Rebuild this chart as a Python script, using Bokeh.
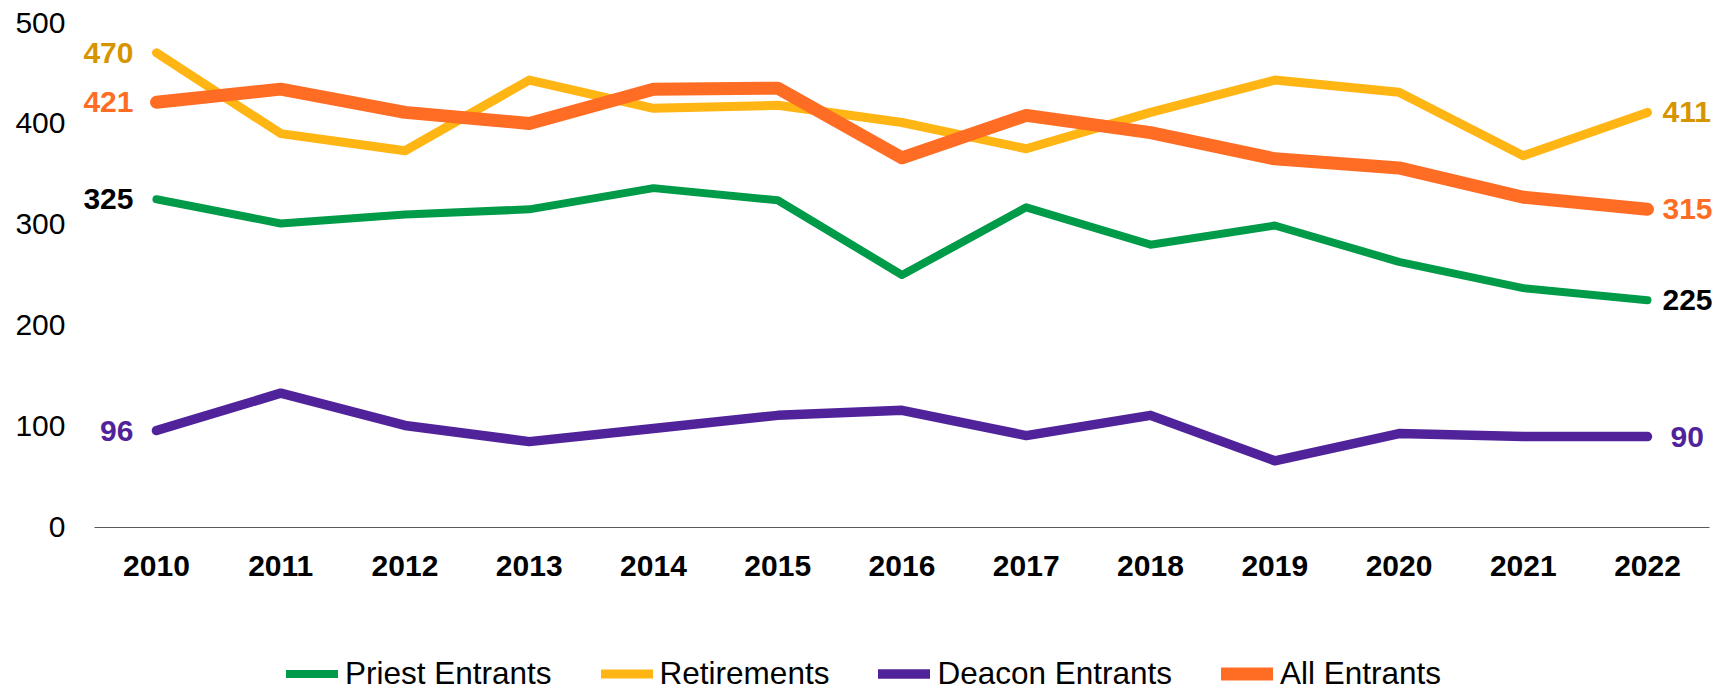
from bokeh.plotting import figure
from bokeh.models import ColumnDataSource, LabelSet, Legend, LegendItem, FixedTicker, Range1d
from bokeh.core.properties import value
from bokeh.embed import file_html
from bokeh.resources import INLINE

# ---- data ----
years = [2010, 2011, 2012, 2013, 2014, 2015, 2016, 2017, 2018, 2019, 2020, 2021, 2022]
priest_entrants = [325, 301, 310, 315, 336, 324, 250, 317, 280, 299, 263, 237, 225]
retirements = [470, 390, 373, 443, 415, 418, 401, 375, 411, 443, 431, 368, 411]
deacon_entrants = [96, 133, 101, 85, 98, 111, 116, 91, 111, 66, 93, 90, 90]
all_entrants = [421, 434, 411, 400, 434, 435, 366, 408, 391, 365, 356, 327, 315]
y_ticks = [0, 100, 200, 300, 400, 500]

series_names = ["Priest Entrants", "Retirements", "Deacon Entrants", "All Entrants"]
series_values = [priest_entrants, retirements, deacon_entrants, all_entrants]

# ---- styles ----
line_colors = ["#009B48", "#FFB514", "#51239A", "#FF6C23"]
label_colors = ["#000000", "#D69500", "#51239A", "#FF6C23"]
line_widths = [8, 9, 9.5, 13]
FONT = "Liberation Sans"

src = ColumnDataSource(dict(year=years, priest=priest_entrants, retire=retirements,
                            deacon=deacon_entrants, allent=all_entrants))
cols = ["priest", "retire", "deacon", "allent"]

# frame covers the whole lower part so the legend can sit inside it
p = figure(width=1730, height=692,
           x_range=Range1d(2009.308, 2022.668), y_range=Range1d(-163.4, 500),
           output_backend="svg", toolbar_location=None,
           min_border_left=70, min_border_right=0, min_border_top=22,
           min_border_bottom=0)
p.outline_line_color = None
p.xgrid.visible = False
p.ygrid.visible = False

# y axis
p.yaxis.ticker = FixedTicker(ticks=y_ticks)
p.yaxis.axis_line_color = None
p.yaxis.major_tick_line_color = None
p.yaxis.minor_tick_line_color = None
p.yaxis.major_tick_out = 0
p.yaxis.major_tick_in = 0
p.yaxis.major_label_standoff = 5
p.yaxis.major_label_text_font = FONT
p.yaxis.major_label_text_font_size = "30px"
p.yaxis.major_label_text_color = "#000000"

# x axis, drawn at y = 0
p.xaxis.fixed_location = 0
p.xaxis.ticker = FixedTicker(ticks=years)
p.xaxis.bounds = (years[0] - 0.5, years[-1] + 0.5)
p.xaxis.axis_line_color = "#595959"
p.xaxis.axis_line_width = 1
p.xaxis.major_tick_line_color = None
p.xaxis.minor_tick_line_color = None
p.xaxis.major_tick_out = 0
p.xaxis.major_tick_in = 0
p.xaxis.major_label_standoff = 29
p.xaxis.major_label_text_font = FONT
p.xaxis.major_label_text_font_size = "30px"
p.xaxis.major_label_text_font_style = "bold"
p.xaxis.major_label_text_color = "#000000"

renderers = []
for col, color, lw in zip(cols, line_colors, line_widths):
    r = p.line(x="year", y=col, source=src, line_color=color, line_width=lw,
               line_cap="round", line_join="round")
    renderers.append(r)

# end labels (first and last value of each series)
lab_x, lab_y, lab_text, lab_color, lab_align, lab_dx = [], [], [], [], [], []
for vals, c in zip(series_values, label_colors):
    lab_x += [years[0], years[-1]]
    lab_y += [vals[0], vals[-1]]
    lab_text += [str(vals[0]), str(vals[-1])]
    lab_color += [c, c]
    lab_align += ["right", "left"]
    lab_dx += [-23, 23 if vals[-1] < 100 else 15]

lab_src = ColumnDataSource(dict(x=lab_x, y=lab_y, text=lab_text, color=lab_color,
                                align=lab_align, dx=lab_dx))
labels = LabelSet(x="x", y="y", text="text", source=lab_src, text_color="color",
                  text_align="align", x_offset="dx", text_baseline="middle",
                  text_font=value(FONT), text_font_size="30px",
                  text_font_style="bold")
p.add_layout(labels)

legend = Legend(items=[LegendItem(label=n, renderers=[r]) for n, r in zip(series_names, renderers)],
                orientation="horizontal", location=(216, 0),
                padding=0, margin=0, spacing=49, glyph_width=52, glyph_height=31,
                label_standoff=7, label_text_font=FONT, label_text_font_size="31.5px",
                label_text_color="#000000", border_line_color=None,
                background_fill_alpha=0)
p.add_layout(legend)

open("out.html", "w").write(file_html(p, INLINE))
